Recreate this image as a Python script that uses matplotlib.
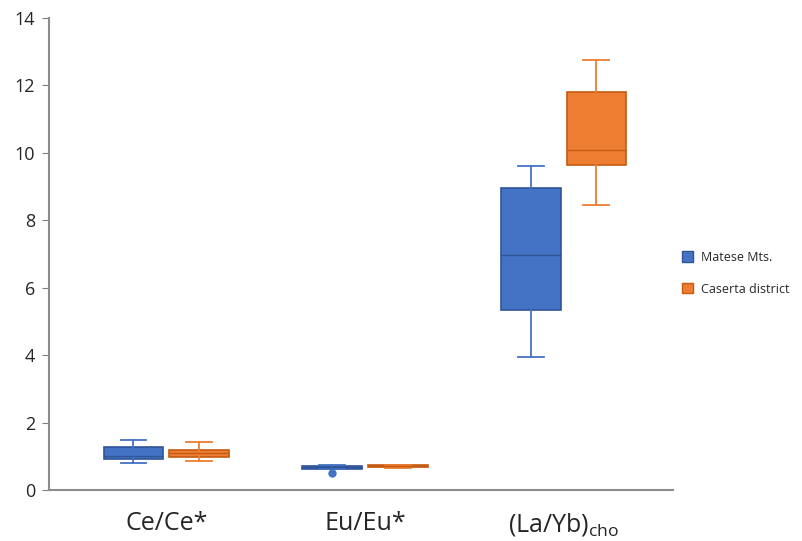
import numpy as np
import matplotlib
matplotlib.use('Agg')
import matplotlib.pyplot as plt
from matplotlib.patches import Patch

plt.rcParams['font.family'] = ['Open Sans', 'DejaVu Sans']
plt.rcParams['text.color'] = '#262626'
plt.rcParams['xtick.color'] = '#262626'
plt.rcParams['ytick.color'] = '#262626'

categories = ['Ce/Ce*', 'Eu/Eu*', r'(La/Yb)$_{\mathregular{cho}}$']
groups = ['Matese Mts.', 'Caserta district']
colors = ['#4472C4', '#ED7D31']
edges = ['#2F5597', '#C55A11']

# five-number summaries per group: whisker low, q1, median, q3, whisker high
matese_low = [0.80, 0.62, 3.96]
matese_q1 = [0.92, 0.64, 5.34]
matese_med = [1.00, 0.68, 6.97]
matese_q3 = [1.28, 0.72, 8.96]
matese_high = [1.48, 0.74, 9.62]
matese_fliers = [[], [0.52], []]

caserta_low = [0.87, 0.67, 8.46]
caserta_q1 = [0.98, 0.68, 9.64]
caserta_med = [1.10, 0.71, 10.09]
caserta_q3 = [1.20, 0.74, 11.81]
caserta_high = [1.44, 0.76, 12.76]
caserta_fliers = [[], [], []]


def stats(low, q1, med, q3, high, fliers):
    return [dict(whislo=a, q1=b, med=c, q3=d, whishi=e, fliers=f)
            for a, b, c, d, e, f in zip(low, q1, med, q3, high, fliers)]


data = [stats(matese_low, matese_q1, matese_med, matese_q3, matese_high, matese_fliers),
        stats(caserta_low, caserta_q1, caserta_med, caserta_q3, caserta_high, caserta_fliers)]

fig = plt.figure(figsize=(8.03, 5.41), dpi=100)
ax = fig.add_axes([0.061, 0.094, 0.777, 0.873])

pos = np.arange(1, len(categories) + 1)
offsets = [-0.165, 0.165]
for st, off, c, ec in zip(data, offsets, colors, edges):
    ax.bxp(st, positions=pos + off, widths=0.30, patch_artist=True,
           showcaps=True,
           boxprops=dict(facecolor=c, edgecolor=ec, linewidth=1.2),
           medianprops=dict(color=ec, linewidth=1.0),
           whiskerprops=dict(color=c, linewidth=1.3),
           capprops=dict(color=c, linewidth=1.3),
           capwidths=0.13,
           flierprops=dict(marker='o', markerfacecolor=c, markeredgecolor=c,
                           markersize=5))

ax.set_xlim(0.41, 3.55)
ax.set_ylim(0, 14)
ax.set_yticks(range(0, 15, 2))
ax.set_xticks(pos)
ax.set_xticklabels(categories, fontsize=18)
ax.tick_params(axis='x', length=0, pad=15)
ax.tick_params(axis='y', labelsize=13, length=5, color='#808080', direction='out', pad=5)
for s in ['top', 'right']:
    ax.spines[s].set_visible(False)
for s in ['left', 'bottom']:
    ax.spines[s].set_color('#8c8c8c')
    ax.spines[s].set_linewidth(1.5)

handles = [Patch(facecolor=c, edgecolor=ec, label=g) for g, c, ec in zip(groups, colors, edges)]
fig.legend(handles=handles, loc='center left', bbox_to_anchor=(0.835, 0.495), frameon=False,
           fontsize=9, handlelength=0.9, handleheight=0.9, labelspacing=1.5, handletextpad=0.6)

fig.savefig('out.png', dpi=100)
